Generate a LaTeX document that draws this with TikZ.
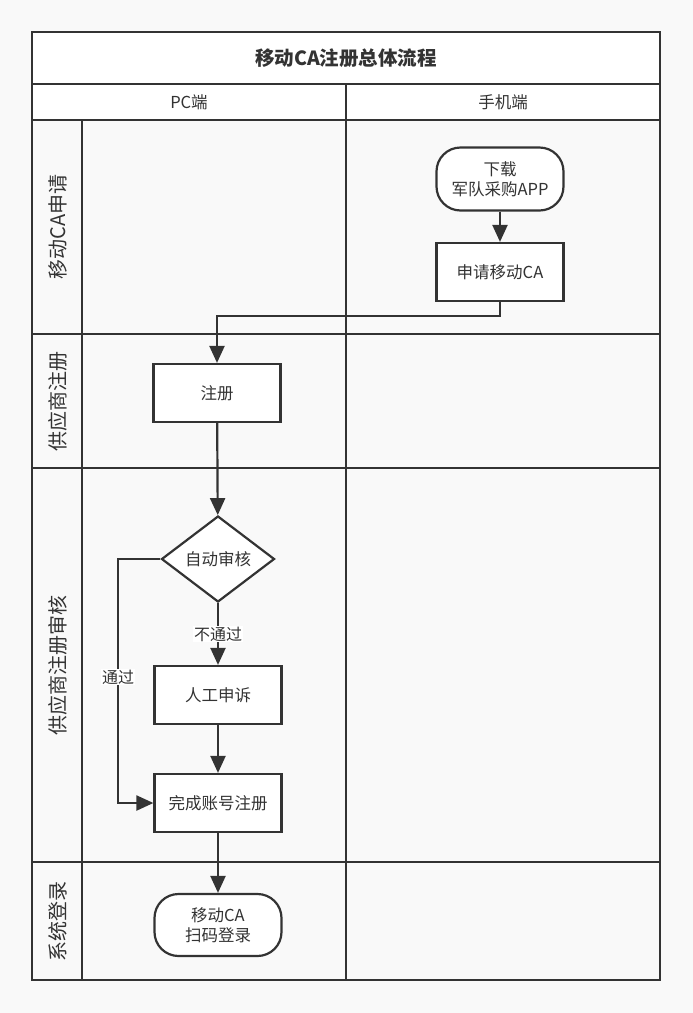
\documentclass[tikz,border=0pt]{standalone}
\usepackage{fontspec}
\setmainfont{Noto Sans CJK SC}
\usetikzlibrary{arrows.meta,shapes.geometric}
\definecolor{bg}{RGB}{249,249,249}
\definecolor{ln}{RGB}{51,51,51}
\begin{document}
\begin{tikzpicture}[x=1pt,y=-1pt,
  line width=2pt,
  frame/.style={draw=ln,line width=2.2pt},
  box/.style={draw=ln,line width=2.2pt,fill=white,minimum width=127pt,minimum height=58pt,inner sep=0pt,font=\fontsize{16.5}{20.5}\selectfont,text=ln,align=center},
  term/.style={box,rounded corners=24pt,minimum height=63pt},
  dia/.style={draw=ln,line width=2.2pt,fill=white,diamond,minimum width=113pt,minimum height=86pt,inner sep=0pt,font=\fontsize{16.5}{20}\selectfont,text=ln},
  conn/.style={draw=ln,line width=2.2pt,-{Triangle[length=17pt,width=15pt]}},
  lbl/.style={fill=white,inner sep=1pt,font=\fontsize{16}{19}\selectfont,text=ln},
  lane/.style={rotate=90,font=\fontsize{20}{24}\selectfont,text=ln},
  hdr/.style={font=\fontsize{16.5}{20}\selectfont,text=ln}
]
\fill[bg] (0,0) rectangle (693,1013);
\useasboundingbox (0,0) rectangle (693,1013);
% title and header
\filldraw[fill=white,draw=ln,line width=2.2pt] (32,32) rectangle (660,84);
\node[font=\bfseries\fontsize{19.5}{23}\selectfont,text=ln] (title) at (346,58) {移动CA注册总体流程};
\filldraw[fill=white,draw=ln,line width=2.2pt] (32,84) rectangle (346,120);
\filldraw[fill=white,draw=ln,line width=2.2pt] (346,84) rectangle (660,120);
\node[hdr] (hpc) at (189,102) {PC端};
\node[hdr] (hmob) at (503,102) {手机端};
% lanes
\draw[frame] (32,120) rectangle (660,980);
\draw[frame] (82,120) -- (82,980);
\draw[frame] (346,120) -- (346,980);
\draw[frame] (32,334) -- (660,334);
\draw[frame] (32,468) -- (660,468);
\draw[frame] (32,862) -- (660,862);
\node[lane] (l1) at (58,227) {移动CA申请};
\node[lane] (l2) at (58,401) {供应商注册};
\node[lane] (l3) at (58,665) {供应商注册审核};
\node[lane] (l4) at (58,921) {系统登录};
% nodes
\node[term] (dl) at (500,179) {下载\\军队采购APP};
\node[box] (apply) at (500,272) {申请移动CA};
\node[box] (reg) at (217,393) {注册};
\node[dia] (auto) at (218,559) {自动审核};
\node[box] (appeal) at (218,695) {人工申诉};
\node[box] (done) at (218,803) {完成账号注册};
\node[term,minimum height=62pt] (login) at (218,925) {移动CA\\扫码登录};
\coordinate (c1) at (500,316);
\coordinate (c2) at (217,316);
\coordinate (c3) at (118,559);
\coordinate (c4) at (118,803);
% connectors
\draw[conn] (dl) -- (apply);
\draw[conn] (apply.south) -- (c1) -- (c2) -- (reg.north);
\draw[conn] (reg) -- (auto);
\draw[conn] (auto.south) -- (appeal.north) node[lbl,pos=0.5] {不通过};
\draw[conn] (appeal) -- (done);
\draw[conn] (auto.west) -- (c3) -- (c4) -- (done.west);
\node[lbl] (pass) at (118,677) {通过};
\draw[conn] (done) -- (login);
\end{tikzpicture}
\end{document}
